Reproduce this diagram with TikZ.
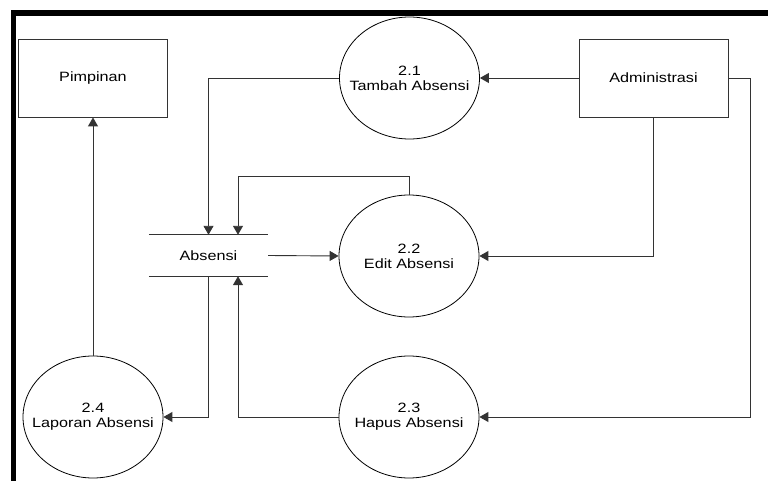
\documentclass[tikz,border=0pt]{standalone}
\usepackage{fontspec}
\setmainfont{Liberation Sans}[FakeStretch=1.2]
\usetikzlibrary{shapes.geometric,arrows.meta}
\newcommand{\zline}[1]{\makebox[0pt]{#1}}
\begin{document}
\begin{tikzpicture}[x=1pt,y=-1pt,
  every node/.style={font=\fontsize{13.5}{15}\selectfont},
  ent/.style={draw=black!80,line width=0.9pt,rectangle,minimum width=149pt,minimum height=78pt,inner sep=0pt},
  proc/.style={draw=black,line width=0.8pt,ellipse,minimum width=140pt,minimum height=122pt,inner sep=0pt,align=center},
  store/.style={rectangle,minimum width=119pt,minimum height=41pt,inner sep=0pt},
  flow/.style={draw=black!80,line width=0.9pt,-{Triangle[length=9pt,width=10pt]}},
  edge/.style={draw=black!80,line width=0.9pt}]
\useasboundingbox (0,0) rectangle (768,481);
% frame bars
\fill[black] (11,10) rectangle (768,16);
\fill[black] (11,10) rectangle (16,481);

% external entities
\node[ent] (pim) at (93,78) {Pimpinan};
\node[ent] (adm) at (653.5,78) {Administrasi};

% processes (text boxes kept zero-width so the ellipse keeps its fixed size)
\node[proc] (p21) at (409.5,78) {\zline{2.1}\\\zline{Tambah Absensi}};
\node[proc] (p22) at (409,256) {\zline{2.2}\\\zline{Edit Absensi}};
\node[proc] (p23) at (409,417) {\zline{2.3}\\\zline{Hapus Absensi}};
\node[proc] (p24) at (93,417) {\zline{2.4}\\\zline{Laporan Absensi}};

% data store
\node[store] (st) at (208.5,255.5) {Absensi};
\draw[edge] (st.north west) -- (st.north east);
\draw[edge] (st.south west) -- (st.south east);

% routing points
\coordinate (lp) at (238,176);
\coordinate (rt) at (750,78);

% flows
\draw[flow] (adm.west) -- (p21.east);
\draw[flow] (p21.west) -| (st.north);
\draw[flow] (p22.north) |- (lp) -- (lp |- st.north);
\draw[flow] (st.east) -- (p22.west);
\draw[flow] (adm.south) |- (p22.east);
\draw[flow] (adm.east) -- (rt) |- (p23.east);
\draw[flow] (p23.west) -| (lp |- st.south);
\draw[flow] (st.south) |- (p24.east);
\draw[flow] (p24.north) -- (pim.south);
\end{tikzpicture}
\end{document}
